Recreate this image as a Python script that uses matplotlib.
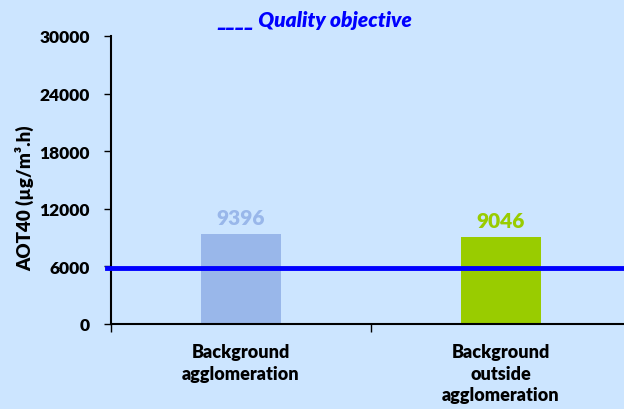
import numpy as np
import matplotlib.pyplot as plt

# Data
categories = ['Background\nagglomeration', 'Background\noutside\nagglomeration']
values = [9396, 9046]
bar_colors = ['#99B7EA', '#99CC00']
objective = 5800  # drawn level of the quality objective line
yticks = [0, 6000, 12000, 18000, 24000, 30000]

bg = '#CCE5FF'
plt.rcParams['font.family'] = ['Lato', 'DejaVu Sans']

fig = plt.figure(figsize=(6.24, 4.10), dpi=100, facecolor=bg)
ax = fig.add_axes([111 / 624, 85 / 410, 520 / 624, 288 / 410], facecolor=bg)

x = np.arange(len(categories))
bars = ax.bar(x, values, width=0.305, color=bar_colors, zorder=2)
for xi, v, c in zip(x, values, bar_colors):
    ax.annotate(str(v), (xi, v), xytext=(0, 5), textcoords='offset points',
                ha='center', va='bottom', fontsize=15, fontweight='heavy', color=c)

# Quality objective line
ax.axhline(objective, xmin=-0.008, xmax=1, color='#0000FF', lw=3.5, zorder=3, clip_on=False)

ax.set_xlim(-0.5, 1.5)
ax.set_ylim(0, 30000)
ax.set_yticks(yticks)
ax.set_yticklabels([str(t) for t in yticks], fontsize=12.5, fontweight='heavy')
ax.set_xticks(x)
ax.set_xticklabels(categories, fontsize=13, fontweight='heavy', va='top', linespacing=1.3)
ax.set_xticks([-0.5, 0.5, 1.5], minor=True)
ax.tick_params(axis='x', which='major', length=0, pad=14)
ax.tick_params(axis='x', which='minor', length=6, width=1, direction='out')
ax.tick_params(axis='y', length=5, width=1, direction='out', pad=10)

for s in ['top', 'right']:
    ax.spines[s].set_visible(False)
for s in ['left', 'bottom']:
    ax.spines[s].set_linewidth(1.5)

ax.set_ylabel('AOT40 (µg/m³.h)', fontsize=13.5, fontweight='heavy')
ax.yaxis.set_label_coords(-0.147, 0.44)

fig.text(315 / 624, 1 - 21 / 410, '____ Quality objective', ha='center', va='center',
         fontsize=15, fontweight='heavy', style='italic', color='#0000FF')

fig.savefig('out.png', dpi=100, facecolor=bg)
